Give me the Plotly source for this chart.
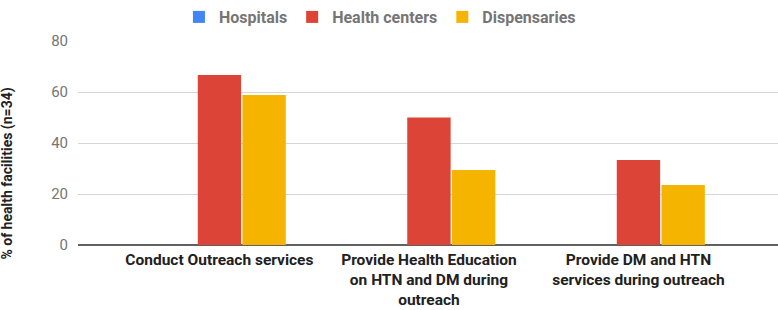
import plotly.graph_objects as go

categories = [
    "Conduct Outreach services",
    "Provide Health Education<br>on HTN and DM during<br>outreach",
    "Provide DM and HTN<br>services during outreach",
]
hospitals = [0, 0, 0]
health_centers = [66.7, 50.0, 33.3]
dispensaries = [58.8, 29.4, 23.5]
y_ticks = [0, 20, 40, 60, 80]

series = [
    ("Hospitals", hospitals, "#4285F4"),
    ("Health centers", health_centers, "#DB4437"),
    ("Dispensaries", dispensaries, "#F4B400"),
]

fig = go.Figure()
for name, vals, color in series:
    fig.add_trace(go.Bar(
        x=categories, y=vals, name=name,
        marker=dict(color=color, line=dict(width=0)),
        hoverinfo="skip",
    ))

fig.update_layout(
    width=778, height=310,
    margin=dict(l=78, r=0, t=41, b=65),
    paper_bgcolor="white", plot_bgcolor="white",
    barmode="group", bargap=0.36, bargroupgap=0.03,
    font=dict(family="Roboto", size=14),
    showlegend=True,
    legend=dict(
        orientation="h", xref="container", yref="container",
        x=0.23, xanchor="left", y=1, yanchor="top",
        font=dict(family="Roboto", size=16, color="#757575", weight="bold"),
        bgcolor="rgba(0,0,0,0)", itemclick=False,
    ),
    xaxis=dict(
        range=[-0.675, 2.666], showgrid=False, zeroline=False, showline=False,
        automargin=False, ticklabelstandoff=3,
        ticks="", tickfont=dict(family="Roboto", size=15.5, color="#212121", weight="bold"),
    ),
    yaxis=dict(
        range=[0, 80], tickvals=y_ticks, showgrid=True, gridcolor="#d6d6d6", gridwidth=1,
        automargin=False,
        zeroline=True, zerolinecolor="#616161", zerolinewidth=2,
        ticks="outside", ticklen=6, tickcolor="rgba(0,0,0,0)",
        tickfont=dict(family="Roboto", size=15, color="#757575"),
        showline=False,
    ),
    annotations=[dict(
        text="% of health facilities (n=34)", xref="paper", yref="paper",
        x=-0.1, y=0.35, xanchor="center", yanchor="middle", textangle=-90,
        showarrow=False, font=dict(family="Roboto", size=14, color="#212121", weight="bold"),
    )],
)

fig.write_html("out.html", config={"displayModeBar": False},
               post_script="document.body.style.margin='0';")
